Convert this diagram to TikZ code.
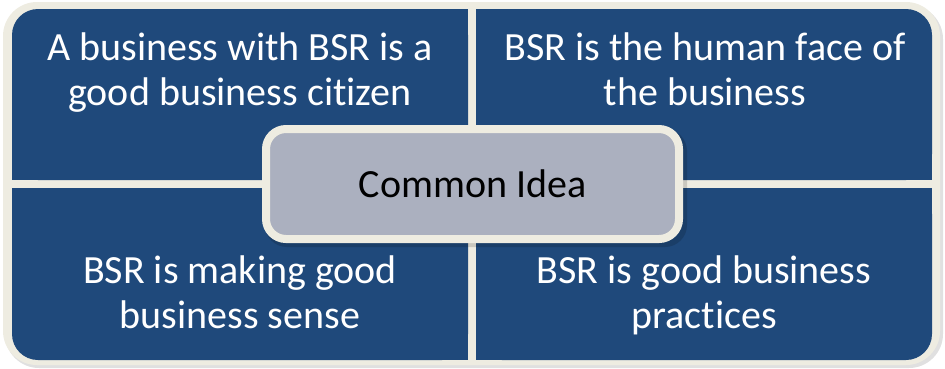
\documentclass[tikz,border=0pt]{standalone}
\usepackage{fontspec}
\setmainfont{Carlito}[Ligatures=CommonOff]
\definecolor{qblue}{HTML}{1F497B}
\definecolor{qlight}{HTML}{EEECE1}
\definecolor{qgray}{HTML}{ABB0BF}
\begin{document}
\begin{tikzpicture}[x=1pt,y=-1pt,
  quadtext/.style={text=white,align=center,font=\fontsize{40}{45}\selectfont,inner sep=0pt},
  centertext/.style={text=black,font=\fontsize{40}{45}\selectfont}]
\useasboundingbox (0,0) rectangle (945,368);
% shadow and light frame
\fill[black,opacity=0.12,rounded corners=34] (5,5) rectangle (943,368);
\fill[qlight,rounded corners=34] (3,2) rectangle (940,365);
% quadrants
\fill[qblue,rounded corners=26] (12,9) rectangle (468,180);
\fill[qblue] (60,9) rectangle (468,180);
\fill[qblue] (12,60) rectangle (468,180);
\fill[qblue,rounded corners=26] (476,9) rectangle (932,180);
\fill[qblue] (476,9) rectangle (880,180);
\fill[qblue] (476,60) rectangle (932,180);
\fill[qblue,rounded corners=26] (12,188) rectangle (468,360);
\fill[qblue] (60,188) rectangle (468,360);
\fill[qblue] (12,188) rectangle (468,310);
\fill[qblue,rounded corners=26] (476,188) rectangle (932,360);
\fill[qblue] (476,188) rectangle (880,360);
\fill[qblue] (476,188) rectangle (932,310);
% texts
\node[quadtext] (tl) at (240,73.5) {\strut A business with BSR is a\\\strut good business citizen};
\node[quadtext] (tr) at (705,73.5) {\strut BSR is the human face of\\\strut the business};
\node[quadtext] (bl) at (240,297) {\strut BSR is making good\\\strut business sense};
\node[quadtext] (br) at (704,297) {\strut BSR is good business\\\strut practices};
% center
\fill[black,opacity=0.15,rounded corners=22] (265,129) rectangle (687,247);
\node[draw=qlight,fill=qgray,line width=8pt,rounded corners=20,
  minimum width=413pt,minimum height=110pt,centertext] (common) at (472.5,184) {Common Idea};
\end{tikzpicture}
\end{document}
